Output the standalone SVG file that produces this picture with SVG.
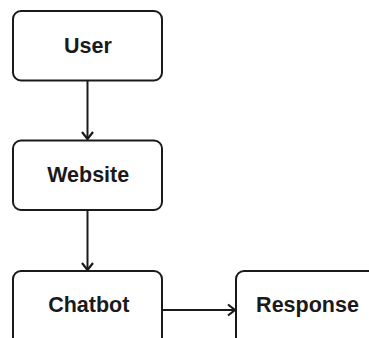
<svg xmlns="http://www.w3.org/2000/svg" width="369" height="338" viewBox="0 0 369 338">
  <defs>
    <marker id="chevron" markerWidth="14" markerHeight="14" refX="11" refY="7" orient="auto" markerUnits="userSpaceOnUse">
      <path d="M4,1.5 L11,7 L4,12.5" fill="none" stroke="#1a1a1a" stroke-width="2.2" stroke-linejoin="miter"/>
    </marker>
    <style>
      .box { fill: #ffffff; stroke: #1a1a1a; stroke-width: 2; }
      .label { font-family: "Liberation Sans", Arial, Helvetica, sans-serif; font-size: 21.5px; font-weight: bold; fill: #1a1a1a; text-anchor: middle; }
      .edge { fill: none; stroke: #1a1a1a; stroke-width: 2; marker-end: url(#chevron); }
    </style>
  </defs>
  <rect width="369" height="338" fill="#ffffff"/>

  <g id="connectors">
    <line class="edge" x1="87.5" y1="81" x2="87.5" y2="139"/>
    <line class="edge" x1="87.5" y1="211" x2="87.5" y2="270"/>
    <line class="edge" x1="163" y1="310" x2="235" y2="310"/>
  </g>

  <g id="user">
    <rect class="box" x="13" y="11" width="149" height="69.5" rx="8"/>
    <text class="label" x="88" y="52.8">User</text>
  </g>
  <g id="website">
    <rect class="box" x="13" y="140.5" width="149" height="69.5" rx="8"/>
    <text class="label" x="88.2" y="182">Website</text>
  </g>
  <g id="chatbot">
    <rect class="box" x="13" y="271" width="149" height="80" rx="8"/>
    <text class="label" x="88.8" y="312.3">Chatbot</text>
  </g>
  <g id="response">
    <rect class="box" x="236" y="271" width="149" height="80" rx="8"/>
    <text class="label" x="307.5" y="312.3">Response</text>
  </g>
</svg>
